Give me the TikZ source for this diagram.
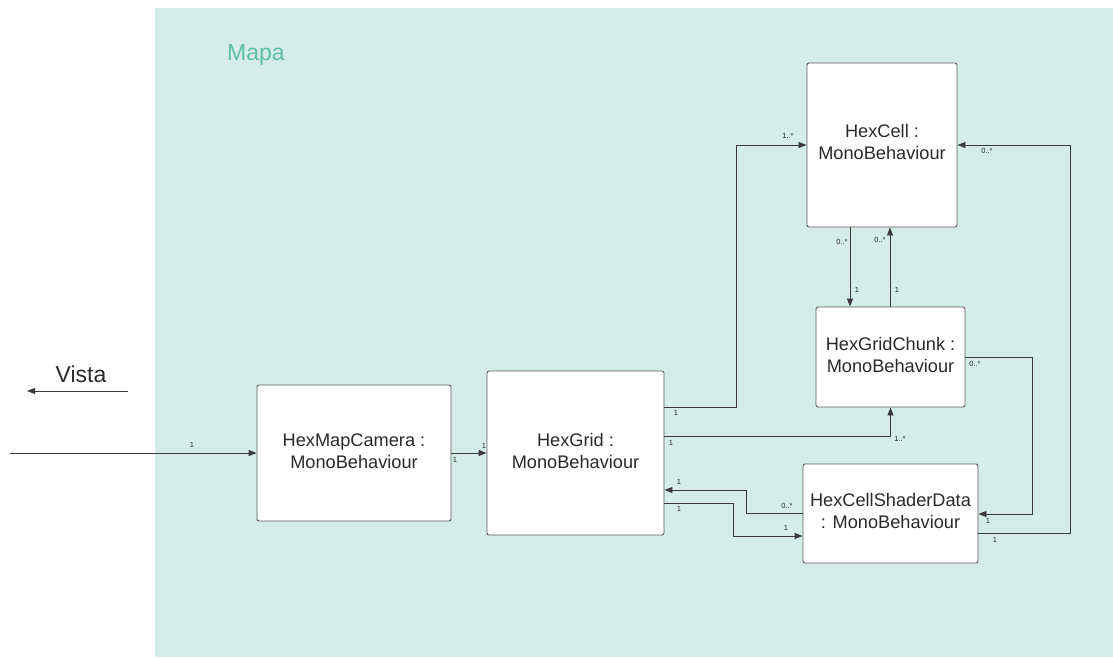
\documentclass[tikz,border=0pt]{standalone}
\usepackage{fontspec}
\setmainfont{Liberation Sans}
\usetikzlibrary{arrows.meta,calc}
\definecolor{mapbg}{HTML}{D5EDE8}
\definecolor{maptitle}{HTML}{5FBFA5}
\definecolor{edge}{HTML}{3A3A3A}
\definecolor{boxline}{HTML}{5A5A5A}
\definecolor{ink}{HTML}{2A2A2A}
\tikzset{
  box/.style={draw=boxline, fill=white, line width=0.9pt, rounded corners=2pt, inner sep=0pt},
  boxtext/.style={text=ink, align=center, font=\fontsize{18.2}{22}\selectfont, inner sep=0pt},
  conn/.style={draw=edge, line width=0.9pt, -{Triangle[length=8pt,width=6pt]}},
  mult/.style={text=ink, font=\fontsize{7.5}{9}\selectfont, inner sep=0pt}
}
\begin{document}
\begin{tikzpicture}[x=1pt,y=-1pt]
\useasboundingbox (0,0) rectangle (1113,657);
% package area
\fill[mapbg] (155,8) rectangle (1113,657);
\node[text=maptitle, font=\fontsize{23}{26}\selectfont, inner sep=0pt] (mapa) at (256,55) {Mapa};

% classes
\node[box, minimum width=194, minimum height=136] (cam) at (354,453) {};
\node[boxtext] (camtxt) at (354,451) {HexMapCamera :\\MonoBehaviour};
\node[box, minimum width=177, minimum height=164] (grid) at (575.5,453) {};
\node[boxtext] (gridtxt) at (575.5,451) {HexGrid :\\MonoBehaviour};
\node[box, minimum width=150, minimum height=164] (cell) at (882,145) {};
\node[boxtext] (celltxt) at (882,142) {HexCell :\\MonoBehaviour};
\node[box, minimum width=149, minimum height=100] (chunk) at (890.5,357) {};
\node[boxtext] (chunktxt) at (890.5,355) {HexGridChunk :\\MonoBehaviour};
\node[box, minimum width=175, minimum height=99] (shader) at (890.5,513.5) {};
\node[boxtext] (shadertxt) at (890.5,511) {HexCellShaderData\\: MonoBehaviour};

% view side
\coordinate (vsrc) at (128,391);
\coordinate (vdst) at (27,391);
\draw[conn] (vsrc) -- (vdst);
\node[text=ink, font=\fontsize{23}{26}\selectfont, inner sep=0pt] (vista) at (81,374) {Vista};
\coordinate (input) at (10,453);
\draw[conn] (input) -- (cam.west);
\node[mult] at (192,445) {1};

% camera to grid
\draw[conn] (cam.east) -- (grid.west);
\node[mult] at (455,460) {1};
\node[mult] at (484,446) {1};

% grid to cell
\draw[conn] (grid.east |- 0,407) -- (736,407) |- (cell.west);
\node[mult] at (676,413) {1};
\node[mult] at (788,136) {1..*};

% grid to chunk
\draw[conn] (grid.east |- 0,436) -| (chunk.south);
\node[mult] at (671,443) {1};
\node[mult] at (900,439) {1..*};

% shader data to grid
\draw[conn] (shader.west) -| (746,490) -- (grid.east |- 0,490);
\node[mult] at (679,482) {1};
\node[mult] at (787,506) {0..*};

% grid to shader data
\draw[conn] (grid.east |- 0,503) -| (733,536) -- (shader.west |- 0,536);
\node[mult] at (679,509) {1};
\node[mult] at (786,528) {1};

% chunk to shader data
\draw[conn] (chunk.east) -| (1032,514) -- (shader.east |- 0,514);
\node[mult] at (975,364) {0..*};
\node[mult] at (988,521) {1};

% shader data to cell
\draw[conn] (shader.east |- 0,533) -| (1070,145) -- (cell.east);
\node[mult] at (995,540) {1};
\node[mult] at (987,151) {0..*};

% cell and chunk
\draw[conn] (cell.south -| 850,0) -- (chunk.north -| 850,0);
\node[mult] at (842,242) {0..*};
\node[mult] at (857,290) {1};
\draw[conn] (chunk.north -| 890,0) -- (cell.south -| 890,0);
\node[mult] at (880,240) {0..*};
\node[mult] at (897,290) {1};
\end{tikzpicture}
\end{document}
